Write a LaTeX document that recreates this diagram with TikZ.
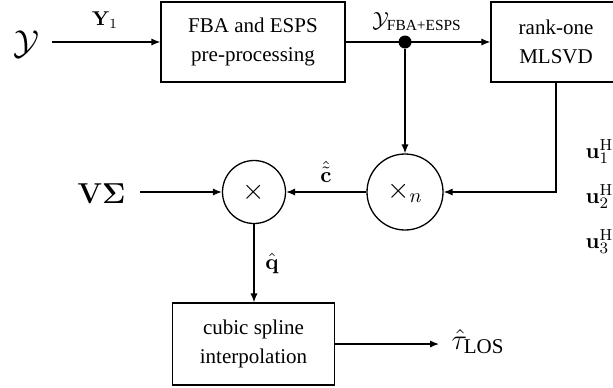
\documentclass[tikz,border=0pt]{standalone}
\usepackage{amsmath}
\usepackage[no-math]{fontspec}
\setmainfont{Liberation Serif}
\usetikzlibrary{arrows.meta}
\begin{document}
\begin{tikzpicture}[x=0.5pt,y=-0.5pt,
  line width=0.65pt,
  arr/.style={-{Latex[length=4.5pt,width=3.6pt]}},
  blk/.style={draw,align=center,inner sep=0pt,font=\fontsize{10.5}{14.5}\selectfont},
  op/.style={draw,circle,inner sep=0pt,font=\fontsize{14}{14}\selectfont},
  lbl/.style={inner sep=0pt,font=\fontsize{11}{12}\selectfont}]
\useasboundingbox (0,0) rectangle (613,387);
% blocks
\node[blk,minimum width=92pt,minimum height=40pt] (pre) at (253,42) {FBA and ESPS\\pre-processing};
\node[blk,minimum width=65pt,minimum height=40pt] (svd) at (556,42) {rank-one\\MLSVD};
\node[blk,minimum width=81pt,minimum height=41pt] (cs) at (253.5,344) {cubic spline\\interpolation};
\node[op,minimum size=38pt] (xn) at (405,192) {$\times_n$};
\node[op,minimum size=31.5pt] (mul) at (254,192) {$\times$};
\node[circle,fill,inner sep=0pt,minimum size=6.5pt] (dot) at (405,42) {};
% inputs / outputs
\node[inner xsep=6pt,inner ysep=0pt,font=\fontsize{19}{19}\selectfont] (Y) at (26.5,44) {$\mathcal{Y}$};
\node[inner xsep=7pt,inner ysep=0pt,font=\fontsize{15}{15}\selectfont] (VS) at (101.5,194) {$\mathbf{V\Sigma}$};
\node[inner xsep=6pt,inner ysep=0pt,anchor=base west,font=\fontsize{15}{15}\selectfont] (tau) at (439,349) {$\hat{\tau}_{\text{LOS}}$};
% labels
\node[lbl,anchor=base,font=\fontsize{10}{11}\selectfont] (y1) at (105,25) {$\mathbf{Y}_1$};
\node[lbl,anchor=base] (yf) at (417,27) {$\mathcal{Y}_{\text{FBA+ESPS}}$};
\node[lbl,anchor=base] (ch) at (326,182) {$\hat{\tilde{\mathbf{c}}}$};
\node[lbl,anchor=base] (qh) at (272,269) {$\hat{\mathbf{q}}$};
\node[lbl,anchor=base west] (u1) at (585,158) {$\mathbf{u}_1^{\mathrm{H}}$};
\node[lbl,anchor=base west] (u2) at (585,203) {$\mathbf{u}_2^{\mathrm{H}}$};
\node[lbl,anchor=base west] (u3) at (585,248) {$\mathbf{u}_3^{\mathrm{H}}$};
% connectors
\draw[arr] (Y.east |- pre.west) -- (pre.west);
\draw[arr] (pre.east) -- (svd.west);
\draw[arr] (dot) -- (xn.north);
\draw[arr] (svd.south) |- (xn.east);
\draw[arr] (xn.west) -- (mul.east);
\draw[arr] (VS.east |- mul.west) -- (mul.west);
\draw[arr] (mul.south) -- (mul.south |- cs.north);
\draw[arr] (cs.east) -- (cs.east -| tau.west);
\end{tikzpicture}
\end{document}
